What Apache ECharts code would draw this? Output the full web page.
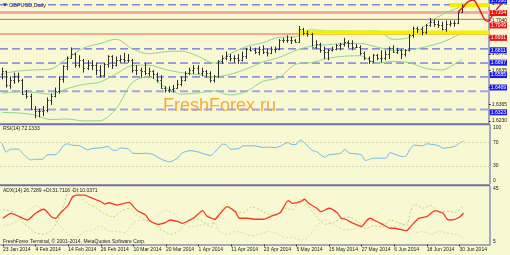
<!DOCTYPE html>
<html><head><meta charset="utf-8">
<script src="https://cdn.jsdelivr.net/npm/echarts@6/dist/echarts.min.js"></script>
<style>html,body{margin:0;padding:0;background:#f8f8d2;}#c{width:510px;height:255px;}</style>
</head><body><div id="c"></div>
<script>
// ---------- data ----------
const tickLabels = ['23 Jan 2014','4 Feb 2014','14 Feb 2014','26 Feb 2014','10 Mar 2014','20 Mar 2014','1 Apr 2014','11 Apr 2014','23 Apr 2014','5 May 2014','15 May 2014','27 May 2014','6 Jun 2014','18 Jun 2014','30 Jun 2014'];
const opens = [
1.6610,1.6630,1.6520,1.6560,1.6590,1.6560,1.6450,1.6430,1.6330,1.6310,
1.6310,1.6320,1.6400,1.6430,1.6470,1.6570,1.6670,1.6740,1.6770,1.6680,
1.6720,1.6660,1.6680,1.6680,1.6640,1.6600,1.6690,1.6750,1.6680,1.6720,
1.6730,1.6720,1.6720,1.6640,1.6640,1.6630,1.6620,1.6630,1.6610,1.6560,
1.6500,1.6480,1.6490,1.6500,1.6530,1.6560,1.6620,1.6640,1.6660,1.6620,
1.6630,1.6620,1.6560,1.6590,1.6710,1.6740,1.6750,1.6740,1.6740,1.6720,
1.6750,1.6810,1.6800,1.6790,1.6810,1.6790,1.6780,1.6810,1.6810,1.6880,
1.6880,1.6880,1.6880,1.6870,1.6970,1.6940,1.6930,1.6830,1.6850,1.6800,
1.6790,1.6800,1.6810,1.6840,1.6850,1.6870,1.6860,1.6830,1.6830,1.6780,
1.6740,1.6710,1.6760,1.6740,1.6740,1.6770,1.6820,1.6790,1.6800,1.6770,
1.6800,1.6920,1.6980,1.6970,1.6950,1.7000,1.7030,1.7010,1.7000,1.6970,
1.7010,1.7020,1.7020,1.7110];
const highs = [
1.6660,1.6635,1.6590,1.6620,1.6620,1.6570,1.6480,1.6450,1.6350,1.6330,
1.6350,1.6420,1.6450,1.6500,1.6590,1.6680,1.6750,1.6823,1.6780,1.6760,
1.6730,1.6720,1.6720,1.6700,1.6680,1.6700,1.6760,1.6760,1.6750,1.6760,
1.6780,1.6770,1.6730,1.6680,1.6660,1.6700,1.6660,1.6640,1.6620,1.6600,
1.6510,1.6510,1.6520,1.6560,1.6590,1.6630,1.6660,1.6680,1.6680,1.6660,
1.6640,1.6630,1.6600,1.6720,1.6760,1.6790,1.6770,1.6760,1.6770,1.6790,
1.6820,1.6830,1.6820,1.6830,1.6840,1.6810,1.6830,1.6830,1.6890,1.6900,
1.6920,1.6910,1.6890,1.6996,1.6980,1.6960,1.6940,1.6880,1.6860,1.6830,
1.6810,1.6830,1.6850,1.6860,1.6900,1.6880,1.6880,1.6850,1.6840,1.6790,
1.6750,1.6770,1.6770,1.6800,1.6800,1.6830,1.6840,1.6820,1.6810,1.6810,
1.6930,1.6990,1.6990,1.6990,1.7010,1.7060,1.7050,1.7040,1.7030,1.7040,
1.7040,1.7040,1.7120,1.7170];
const lows = [
1.6565,1.6500,1.6490,1.6530,1.6540,1.6440,1.6410,1.6320,1.6252,1.6260,
1.6270,1.6300,1.6360,1.6420,1.6450,1.6540,1.6640,1.6730,1.6660,1.6660,
1.6620,1.6640,1.6640,1.6600,1.6580,1.6580,1.6660,1.6650,1.6670,1.6700,
1.6700,1.6700,1.6620,1.6600,1.6580,1.6600,1.6590,1.6570,1.6540,1.6490,
1.6460,1.6460,1.6460,1.6490,1.6510,1.6550,1.6600,1.6610,1.6610,1.6590,
1.6580,1.6540,1.6540,1.6580,1.6690,1.6720,1.6710,1.6700,1.6690,1.6710,
1.6730,1.6790,1.6770,1.6760,1.6770,1.6750,1.6770,1.6780,1.6800,1.6860,
1.6860,1.6850,1.6860,1.6860,1.6920,1.6910,1.6830,1.6810,1.6780,1.6730,
1.6720,1.6790,1.6800,1.6800,1.6830,1.6820,1.6800,1.6820,1.6760,1.6720,
1.6690,1.6700,1.6720,1.6700,1.6720,1.6730,1.6780,1.6770,1.6730,1.6750,
1.6790,1.6900,1.6940,1.6920,1.6930,1.6990,1.6990,1.6980,1.6960,1.6950,
1.6990,1.6990,1.7010,1.7100];
const closes = [
1.6630,1.6520,1.6560,1.6590,1.6560,1.6450,1.6430,1.6330,1.6310,1.6310,
1.6320,1.6400,1.6430,1.6470,1.6570,1.6670,1.6740,1.6770,1.6680,1.6720,
1.6660,1.6680,1.6680,1.6640,1.6600,1.6690,1.6750,1.6680,1.6720,1.6730,
1.6720,1.6720,1.6640,1.6640,1.6630,1.6620,1.6630,1.6610,1.6560,1.6500,
1.6480,1.6490,1.6500,1.6530,1.6560,1.6620,1.6640,1.6660,1.6620,1.6630,
1.6620,1.6560,1.6590,1.6710,1.6740,1.6750,1.6740,1.6740,1.6720,1.6750,
1.6810,1.6800,1.6790,1.6810,1.6790,1.6780,1.6810,1.6810,1.6880,1.6880,
1.6880,1.6880,1.6870,1.6970,1.6940,1.6930,1.6830,1.6850,1.6800,1.6790,
1.6800,1.6810,1.6840,1.6850,1.6870,1.6860,1.6830,1.6830,1.6780,1.6740,
1.6710,1.6760,1.6740,1.6740,1.6770,1.6820,1.6790,1.6800,1.6770,1.6800,
1.6920,1.6980,1.6970,1.6950,1.7000,1.7030,1.7010,1.7000,1.6970,1.7010,
1.7020,1.7020,1.7110,1.7150];

const bbIdx = [0,4,8,12,16,20,24,28,32,36,40,44,48,52,56,60,64,68,72,76,80,84,88,92,96,100,104,108,112,113];
const bbMid = [1.6455,1.6464,1.6460,1.6446,1.6491,1.6525,1.6543,1.6609,1.6677,1.6680,1.6646,1.6620,1.6605,1.6585,1.6606,1.6649,1.6705,1.6742,1.6797,1.6834,1.6845,1.6854,1.6855,1.6827,1.6799,1.6802,1.6828,1.6864,1.6924,1.6945];
const bbUp  = [1.6611,1.6633,1.6642,1.6649,1.6735,1.6818,1.6854,1.6889,1.6812,1.6772,1.6788,1.6793,1.6754,1.6697,1.6771,1.6830,1.6860,1.6904,1.6908,1.6966,1.6955,1.6955,1.6953,1.6958,1.6888,1.6904,1.7002,1.7086,1.7143,1.7165];
const bbLow = [1.6299,1.6295,1.6278,1.6242,1.6246,1.6231,1.6232,1.6329,1.6541,1.6588,1.6504,1.6447,1.6456,1.6473,1.6440,1.6468,1.6549,1.6579,1.6686,1.6701,1.6735,1.6752,1.6756,1.6695,1.6710,1.6700,1.6654,1.6642,1.6705,1.6725];

const rsiIdx = [0,1,2,4,5,7,8,10,11,13,14,15,16,17,19,21,22,24,26,27,28,29,31,32,34,35,37,39,41,43,44,46,48,51,53,54,55,56,58,59,62,64,65,67,68,70,71,72,73,74,76,77,79,80,82,83,84,85,86,88,89,90,91,94,95,96,98,99,100,101,103,104,106,107,108,110,111,112,113];
const rsiVal = [69,53.6,58.7,58.7,51.8,40.3,41.5,41.5,48.9,49.4,54.6,64.4,67.8,65.6,64.4,57.5,59.7,60.9,63.2,57.5,56.3,60.9,58.7,51.8,51.2,51.8,49.4,41.5,36.9,43.3,51.8,56.3,54.0,47.7,60.4,67.3,65.6,58.7,59.7,64.4,64.4,61.5,62.1,61.5,63.2,70.0,66.6,66.6,74.2,70.0,56.3,54.6,45.0,48.9,50.6,51.8,58.7,51.8,51.2,48.9,39.1,41.5,43.3,43.3,52.9,50.6,46.0,47.2,60.0,65.6,64.4,67.8,66.1,64.4,60.4,62.1,63.8,69.0,72.1];
const rsiLevels = [70, 30];

const adxIdx = [0,2,4,6,8,10,12,13,14,16,17,18,20,21,23,24,25,26,28,29,31,32,33,35,36,38,40,41,43,44,45,47,49,50,52,53,55,57,58,60,62,64,66,68,70,71,73,74,75,77,78,80,82,83,84,86,88,89,90,91,93,95,96,98,99,100,102,104,105,106,108,109,110,112,113];
const adxVal = [23.1,26.5,24.2,21.9,26.5,29.3,23.8,23.1,26.5,32.2,37.6,39.1,39.1,38.0,35.7,34.5,32.9,33.8,32.2,32.9,34.1,31.1,28.3,25.3,21.4,18.9,20.3,21.9,20.7,19.6,20.7,23.8,28.3,24.7,22.4,25.3,31.1,27.6,23.1,23.1,22.4,22.4,24.7,26.9,35.2,33.4,34.5,36.2,33.4,30.0,27.6,30.0,26.9,23.1,22.4,19.6,17.3,20.7,23.1,21.9,19.1,16.2,16.2,15.0,14.5,17.3,23.1,24.2,26.5,28.3,26.5,22.4,21.9,23.8,26.7];
const pdiIdx = [0,3,5,8,10,12,14,15,16,17,19,21,23,25,27,29,31,33,35,37,39,41,43,45,47,49,51,53,55,57,59,61,63,65,67,69,71,73,75,77,79,81,83,85,87,89,91,93,95,97,99,100,101,103,105,107,109,111,113];
const pdiVal = [29,27,20,13,12,15,25,33,42,45,38,33,30,26,24,28,30,25,22,20,15,12,14,20,23,21,17,27,33,28,27,31,29,26,25,30,29,36,31,24,19,20,23,24,21,16,18,17,22,20,18,28,33,30,32,27,28,27,31.7];
const mdiIdx = [0,3,5,7,8,10,12,14,16,18,20,22,24,26,28,30,32,34,36,38,40,42,44,46,48,50,52,53,55,57,59,61,63,65,67,69,71,73,75,77,79,81,83,85,87,89,91,93,95,97,99,101,103,105,107,109,111,113];
const mdiVal = [18,20,25,30,32,28,24,18,12,10,14,15,18,14,14,13,20,22,21,25,29,26,21,17,18,19,20,14,12,14,13,11,12,14,13,10,10,8,10,18,22,19,16,15,17,22,21,20,17,18,20,13,14,12,14,13,12,10];

const priceTicks = [1.6230,1.6365,1.6500,1.6635,1.6770,1.6905,1.7040,1.7175];
const blueLevels = [1.7166,1.6811,1.6697,1.6585];
const lilacLevels = [1.6469,1.6323];
const redLevels = [1.7104,1.7049,1.6931];
const levelSpan = [-0.5, 119.4];

const yellowTopIdx = [109.7,119.4], yellowTopVal = [1.7165,1.7165];
const yellowMidIdx = [72.4,119.4],  yellowMidVal = [1.6944,1.6944];
const curveIdx = [111.7,112.9,114.1,115.3,116.6,117.6,118.3,119.0,119.6,120.7,122.0,123.2];
const curveVal = [1.7108,1.7149,1.7189,1.7205,1.7149,1.7084,1.7044,1.7034,1.7058,1.7108,1.7165,1.7195];

// ---------- chart ----------
const FONT = 'Liberation Sans';
const N = 120;
const cats = Array.from({length: N}, (_, i) => i);
const PMIN = 1.6214, PMAX = 1.7205;
const pair = (ix, v) => ix.map((k, j) => [k, v[j]]);
const ohlc = opens.map((o, i) => [i, o, highs[i], lows[i], closes[i]]);

const chart = echarts.init(document.getElementById('c'), null, {renderer: 'canvas'});
const axisCol = '#8c8cba';
const lblStyle = {fontSize: 5, fontFamily: FONT, color: '#1a1a1a'};

function levelSeries(v, color, width, type) {
  return {type: 'line', xAxisIndex: 3, yAxisIndex: 3, symbol: 'none', silent: true, z: 1,
    data: levelSpan.map(x => [x, v]), lineStyle: {color: color, width: width, type: type}};
}
function badge(v, bg) {
  return {yAxis: v, lineStyle: {color: 'rgba(0,0,0,0)', width: 1},
    label: {show: true, position: 'end', distance: 1, formatter: v.toFixed(4),
      backgroundColor: bg, color: '#ffffff', fontSize: 5, fontFamily: FONT, padding: [1, 1, 0, 1]}};
}
const badges = []
  .concat(lilacLevels.map(v => badge(v, '#1c1ce6')))
  .concat(blueLevels.map(v => badge(v, '#1c1ce6')))
  .concat(redLevels.map(v => badge(v, '#f01010')));

const levelLines = []
  .concat(lilacLevels.map(v => levelSeries(v, '#a4a4ea', 2, [8, 4])))
  .concat(blueLevels.map(v => levelSeries(v, '#4646e6', 1, [8, 4])))
  .concat(redLevels.map((v, j) => levelSeries(v, j === 0 ? '#f4aaa0' : '#f05a46', j === 0 ? 3 : 1, 'solid')));

const option = {
  backgroundColor: '#f8f8d2',
  animation: false,
  grid: [
    {left: 0, right: 20, top: 0, height: 123},
    {left: 0, right: 20, top: 125, height: 58.5},
    {left: 0, right: 20, top: 186.5, height: 58},
    {left: 0, right: 0, top: 0, height: 123}
  ],
  xAxis: [
    {type: 'category', gridIndex: 0, data: cats, show: false},
    {type: 'category', gridIndex: 1, data: cats, show: false},
    {type: 'category', gridIndex: 2, data: cats,
      axisLine: {lineStyle: {color: axisCol, width: 1.5}},
      axisTick: {show: true, interval: 7, length: 2, alignWithLabel: true, lineStyle: {color: '#333'}},
      axisLabel: {interval: 7, align: 'left', margin: 3, ...lblStyle,
        formatter: (v, idx) => (idx % 8 === 0 && tickLabels[idx / 8]) ? tickLabels[idx / 8] : ''}},
    {type: 'value', gridIndex: 3, min: -0.5, max: 124.4, show: false, splitLine: {show: false}}
  ],
  yAxis: [
    {type: 'value', gridIndex: 0, position: 'right', min: PMIN, max: PMAX, splitLine: {show: false},
      axisLine: {show: true, lineStyle: {color: axisCol, width: 1.5}},
      axisTick: {show: true, length: 2, customValues: priceTicks, lineStyle: {color: '#333'}},
      axisLabel: {customValues: priceTicks, margin: 3, formatter: v => v.toFixed(4), ...lblStyle}},
    {type: 'value', gridIndex: 1, position: 'right', min: 0, max: 100, splitLine: {show: false},
      axisLine: {show: true, lineStyle: {color: axisCol, width: 1.5}},
      axisTick: {show: false},
      axisLabel: {customValues: [0, 30, 70, 100], margin: 3, ...lblStyle,
        verticalAlignMinLabel: 'bottom', verticalAlignMaxLabel: 'top'}},
    {type: 'value', gridIndex: 2, position: 'right', min: 5, max: 45, splitLine: {show: false},
      axisLine: {show: true, lineStyle: {color: axisCol, width: 1.5}},
      axisTick: {show: false},
      axisLabel: {customValues: [5, 45], margin: 3, ...lblStyle,
        verticalAlignMinLabel: 'bottom', verticalAlignMaxLabel: 'top'}},
    {type: 'value', gridIndex: 3, min: PMIN, max: PMAX, show: false, splitLine: {show: false}}
  ],
  series: levelLines.concat([
    {type: 'line', xAxisIndex: 0, yAxisIndex: 0, data: pair(bbIdx, bbMid), symbol: 'none', smooth: 0.3,
      lineStyle: {color: '#8ed68e', width: 1},
      markLine: {silent: true, symbol: ['none', 'none'], data: badges, z: 30}},
    {type: 'line', xAxisIndex: 0, yAxisIndex: 0, data: pair(bbIdx, bbUp), symbol: 'none', smooth: 0.3,
      lineStyle: {color: '#8ed68e', width: 1}},
    {type: 'line', xAxisIndex: 0, yAxisIndex: 0, data: pair(bbIdx, bbLow), symbol: 'none', smooth: 0.3,
      lineStyle: {color: '#8ed68e', width: 1}},
    {type: 'line', xAxisIndex: 3, yAxisIndex: 3, data: pair(yellowMidIdx, yellowMidVal), symbol: 'none',
      lineStyle: {color: '#f4f000', width: 4}},
    {type: 'line', xAxisIndex: 3, yAxisIndex: 3, data: pair(yellowTopIdx, yellowTopVal), symbol: 'none',
      lineStyle: {color: '#f4f000', width: 4}},
    {type: 'custom', xAxisIndex: 0, yAxisIndex: 0, data: ohlc, encode: {x: 0, y: [1, 2, 3, 4]}, z: 5,
      renderItem: function (params, api) {
        const i = api.value(0);
        const o = api.coord([i, api.value(1)]);
        const h = api.coord([i, api.value(2)]);
        const l = api.coord([i, api.value(3)]);
        const c = api.coord([i, api.value(4)]);
        const x = Math.round(h[0]) + 0.5;
        const st = {stroke: '#2c2c2c', lineWidth: 1};
        return {type: 'group', children: [
          {type: 'line', shape: {x1: x, y1: h[1], x2: x, y2: l[1]}, style: st},
          {type: 'line', shape: {x1: x - 1.2, y1: Math.round(o[1]) + 0.5, x2: x, y2: Math.round(o[1]) + 0.5}, style: st},
          {type: 'line', shape: {x1: x, y1: Math.round(c[1]) + 0.5, x2: x + 1.2, y2: Math.round(c[1]) + 0.5}, style: st}
        ]};
      }},
    {type: 'line', xAxisIndex: 3, yAxisIndex: 3, data: pair(curveIdx, curveVal), symbol: 'none', smooth: 0.5, z: 20,
      lineStyle: {color: '#ee1c1c', width: 1.5}},
    {type: 'line', xAxisIndex: 1, yAxisIndex: 1, data: pair(rsiIdx, rsiVal), symbol: 'none', smooth: 0.2,
      lineStyle: {color: '#6cb8f2', width: 1},
      markLine: {silent: true, symbol: ['none', 'none'], label: {show: false},
        lineStyle: {color: '#cfcfb4', type: [2, 2], width: 1},
        data: rsiLevels.map(v => ({yAxis: v}))}},
    {type: 'line', xAxisIndex: 2, yAxisIndex: 2, data: pair(mdiIdx, mdiVal), symbol: 'none', smooth: 0.2,
      lineStyle: {color: '#f2cdb8', width: 1, type: [2, 2]}},
    {type: 'line', xAxisIndex: 2, yAxisIndex: 2, data: pair(pdiIdx, pdiVal), symbol: 'none', smooth: 0.2,
      lineStyle: {color: '#b4d870', width: 1, type: [2, 2]}},
    {type: 'line', xAxisIndex: 2, yAxisIndex: 2, data: pair(adxIdx, adxVal), symbol: 'none', smooth: 0.2,
      lineStyle: {color: '#f03c28', width: 1.3}}
  ]),
  graphic: [
    {type: 'text', z: 0, left: 163, top: 97, silent: true,
      style: {text: 'FreshForex.ru', font: '18px "Liberation Sans"', fill: '#f6ab38'}},
    {type: 'rect', shape: {x: 0, y: 123.2, width: 490, height: 2}, style: {fill: '#7070a4'}, silent: true},
    {type: 'rect', shape: {x: 0, y: 184.2, width: 490, height: 2}, style: {fill: '#7070a4'}, silent: true},
    {type: 'polygon', shape: {points: [[3, 3.5], [7, 3.5], [5, 6.5]]}, style: {fill: '#111'}, silent: true},
    {type: 'text', left: 9, top: 2.5, silent: true,
      style: {text: 'GBPUSD,Daily', font: '5.5px "Liberation Sans"', fill: '#1a1a1a'}},
    {type: 'text', left: 3, top: 126.5, silent: true,
      style: {text: 'RSI(14) 72.1333', font: '5px "Liberation Sans"', fill: '#1a1a1a'}},
    {type: 'text', left: 3, top: 188, silent: true,
      style: {text: 'ADX(14) 26.7289 +DI:31.7116 -DI:10.0371', font: '5px "Liberation Sans"', fill: '#1a1a1a'}},
    {type: 'text', left: 3, top: 239.5, silent: true,
      style: {text: 'FreshForex Terminal, \u00a9 2001-2014, MetaQuotes Software Corp.', font: '5px "Liberation Sans"', fill: '#1a1a1a'}}
  ]
};
chart.setOption(option);
</script></body></html>
